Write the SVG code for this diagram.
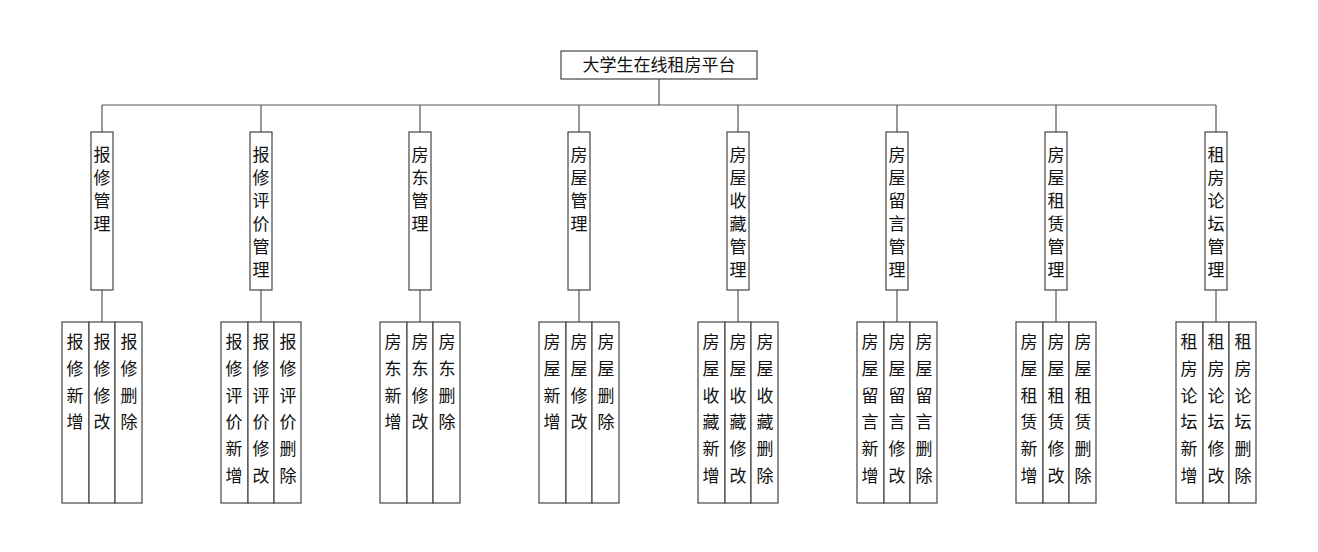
<svg xmlns="http://www.w3.org/2000/svg" width="1318" height="552" viewBox="0 0 1318 552">
<style>
rect{fill:#fff;stroke:#444;stroke-width:1.2}
line{stroke:#555;stroke-width:1.2}
text{font-family:"Noto Sans CJK SC",sans-serif;font-size:17px;fill:#111;text-anchor:middle}
</style>
<rect width="1318" height="552" style="fill:#fff;stroke:none"/>
<g id="connectors">
<line x1="659" y1="79" x2="659" y2="105"/>
<line x1="102" y1="105" x2="1216" y2="105"/>
<line x1="102" y1="105" x2="102" y2="132"/><line x1="102" y1="290" x2="102" y2="322"/>
<line x1="261" y1="105" x2="261" y2="132"/><line x1="261" y1="290" x2="261" y2="322"/>
<line x1="420" y1="105" x2="420" y2="132"/><line x1="420" y1="290" x2="420" y2="322"/>
<line x1="579" y1="105" x2="579" y2="132"/><line x1="579" y1="290" x2="579" y2="322"/>
<line x1="738" y1="105" x2="738" y2="132"/><line x1="738" y1="290" x2="738" y2="322"/>
<line x1="897" y1="105" x2="897" y2="132"/><line x1="897" y1="290" x2="897" y2="322"/>
<line x1="1056" y1="105" x2="1056" y2="132"/><line x1="1056" y1="290" x2="1056" y2="322"/>
<line x1="1216" y1="105" x2="1216" y2="132"/><line x1="1216" y1="290" x2="1216" y2="322"/>
</g>
<g id="root"><rect x="561" y="51" width="196" height="28"/><text x="659" y="71">大学生在线租房平台</text></g>
<g id="m1"><rect x="91" y="132" width="22" height="158"/><text x="102" y="161">报</text><text x="102" y="184">修</text><text x="102" y="207">管</text><text x="102" y="230">理</text></g>
<g id="m2"><rect x="250" y="132" width="22" height="158"/><text x="261" y="161">报</text><text x="261" y="184">修</text><text x="261" y="207">评</text><text x="261" y="230">价</text><text x="261" y="253">管</text><text x="261" y="276">理</text></g>
<g id="m3"><rect x="409" y="132" width="22" height="158"/><text x="420" y="161">房</text><text x="420" y="184">东</text><text x="420" y="207">管</text><text x="420" y="230">理</text></g>
<g id="m4"><rect x="568" y="132" width="22" height="158"/><text x="579" y="161">房</text><text x="579" y="184">屋</text><text x="579" y="207">管</text><text x="579" y="230">理</text></g>
<g id="m5"><rect x="727" y="132" width="22" height="158"/><text x="738" y="161">房</text><text x="738" y="184">屋</text><text x="738" y="207">收</text><text x="738" y="230">藏</text><text x="738" y="253">管</text><text x="738" y="276">理</text></g>
<g id="m6"><rect x="886" y="132" width="22" height="158"/><text x="897" y="161">房</text><text x="897" y="184">屋</text><text x="897" y="207">留</text><text x="897" y="230">言</text><text x="897" y="253">管</text><text x="897" y="276">理</text></g>
<g id="m7"><rect x="1045" y="132" width="22" height="158"/><text x="1056" y="161">房</text><text x="1056" y="184">屋</text><text x="1056" y="207">租</text><text x="1056" y="230">赁</text><text x="1056" y="253">管</text><text x="1056" y="276">理</text></g>
<g id="m8"><rect x="1205" y="132" width="22" height="158"/><text x="1216" y="161">租</text><text x="1216" y="184">房</text><text x="1216" y="207">论</text><text x="1216" y="230">坛</text><text x="1216" y="253">管</text><text x="1216" y="276">理</text></g>
<g id="l1"><rect x="62" y="322" width="27" height="181"/><rect x="89" y="322" width="26" height="181"/><rect x="115" y="322" width="27" height="181"/>
<text x="75" y="348">报</text><text x="75" y="375">修</text><text x="75" y="402">新</text><text x="75" y="428">增</text>
<text x="102" y="348">报</text><text x="102" y="375">修</text><text x="102" y="402">修</text><text x="102" y="428">改</text>
<text x="129" y="348">报</text><text x="129" y="375">修</text><text x="129" y="402">删</text><text x="129" y="428">除</text></g>
<g id="l2"><rect x="221" y="322" width="27" height="181"/><rect x="248" y="322" width="26" height="181"/><rect x="274" y="322" width="27" height="181"/>
<text x="234" y="348">报</text><text x="234" y="375">修</text><text x="234" y="402">评</text><text x="234" y="428">价</text><text x="234" y="455">新</text><text x="234" y="482">增</text>
<text x="261" y="348">报</text><text x="261" y="375">修</text><text x="261" y="402">评</text><text x="261" y="428">价</text><text x="261" y="455">修</text><text x="261" y="482">改</text>
<text x="288" y="348">报</text><text x="288" y="375">修</text><text x="288" y="402">评</text><text x="288" y="428">价</text><text x="288" y="455">删</text><text x="288" y="482">除</text></g>
<g id="l3"><rect x="380" y="322" width="27" height="181"/><rect x="407" y="322" width="26" height="181"/><rect x="433" y="322" width="27" height="181"/>
<text x="393" y="348">房</text><text x="393" y="375">东</text><text x="393" y="402">新</text><text x="393" y="428">增</text>
<text x="420" y="348">房</text><text x="420" y="375">东</text><text x="420" y="402">修</text><text x="420" y="428">改</text>
<text x="447" y="348">房</text><text x="447" y="375">东</text><text x="447" y="402">删</text><text x="447" y="428">除</text></g>
<g id="l4"><rect x="539" y="322" width="27" height="181"/><rect x="566" y="322" width="26" height="181"/><rect x="592" y="322" width="27" height="181"/>
<text x="552" y="348">房</text><text x="552" y="375">屋</text><text x="552" y="402">新</text><text x="552" y="428">增</text>
<text x="579" y="348">房</text><text x="579" y="375">屋</text><text x="579" y="402">修</text><text x="579" y="428">改</text>
<text x="606" y="348">房</text><text x="606" y="375">屋</text><text x="606" y="402">删</text><text x="606" y="428">除</text></g>
<g id="l5"><rect x="698" y="322" width="27" height="181"/><rect x="725" y="322" width="26" height="181"/><rect x="751" y="322" width="27" height="181"/>
<text x="711" y="348">房</text><text x="711" y="375">屋</text><text x="711" y="402">收</text><text x="711" y="428">藏</text><text x="711" y="455">新</text><text x="711" y="482">增</text>
<text x="738" y="348">房</text><text x="738" y="375">屋</text><text x="738" y="402">收</text><text x="738" y="428">藏</text><text x="738" y="455">修</text><text x="738" y="482">改</text>
<text x="765" y="348">房</text><text x="765" y="375">屋</text><text x="765" y="402">收</text><text x="765" y="428">藏</text><text x="765" y="455">删</text><text x="765" y="482">除</text></g>
<g id="l6"><rect x="857" y="322" width="27" height="181"/><rect x="884" y="322" width="26" height="181"/><rect x="910" y="322" width="27" height="181"/>
<text x="870" y="348">房</text><text x="870" y="375">屋</text><text x="870" y="402">留</text><text x="870" y="428">言</text><text x="870" y="455">新</text><text x="870" y="482">增</text>
<text x="897" y="348">房</text><text x="897" y="375">屋</text><text x="897" y="402">留</text><text x="897" y="428">言</text><text x="897" y="455">修</text><text x="897" y="482">改</text>
<text x="924" y="348">房</text><text x="924" y="375">屋</text><text x="924" y="402">留</text><text x="924" y="428">言</text><text x="924" y="455">删</text><text x="924" y="482">除</text></g>
<g id="l7"><rect x="1016" y="322" width="27" height="181"/><rect x="1043" y="322" width="26" height="181"/><rect x="1069" y="322" width="27" height="181"/>
<text x="1029" y="348">房</text><text x="1029" y="375">屋</text><text x="1029" y="402">租</text><text x="1029" y="428">赁</text><text x="1029" y="455">新</text><text x="1029" y="482">增</text>
<text x="1056" y="348">房</text><text x="1056" y="375">屋</text><text x="1056" y="402">租</text><text x="1056" y="428">赁</text><text x="1056" y="455">修</text><text x="1056" y="482">改</text>
<text x="1083" y="348">房</text><text x="1083" y="375">屋</text><text x="1083" y="402">租</text><text x="1083" y="428">赁</text><text x="1083" y="455">删</text><text x="1083" y="482">除</text></g>
<g id="l8"><rect x="1176" y="322" width="27" height="181"/><rect x="1203" y="322" width="26" height="181"/><rect x="1229" y="322" width="27" height="181"/>
<text x="1189" y="348">租</text><text x="1189" y="375">房</text><text x="1189" y="402">论</text><text x="1189" y="428">坛</text><text x="1189" y="455">新</text><text x="1189" y="482">增</text>
<text x="1216" y="348">租</text><text x="1216" y="375">房</text><text x="1216" y="402">论</text><text x="1216" y="428">坛</text><text x="1216" y="455">修</text><text x="1216" y="482">改</text>
<text x="1243" y="348">租</text><text x="1243" y="375">房</text><text x="1243" y="402">论</text><text x="1243" y="428">坛</text><text x="1243" y="455">删</text><text x="1243" y="482">除</text></g>
</svg>
